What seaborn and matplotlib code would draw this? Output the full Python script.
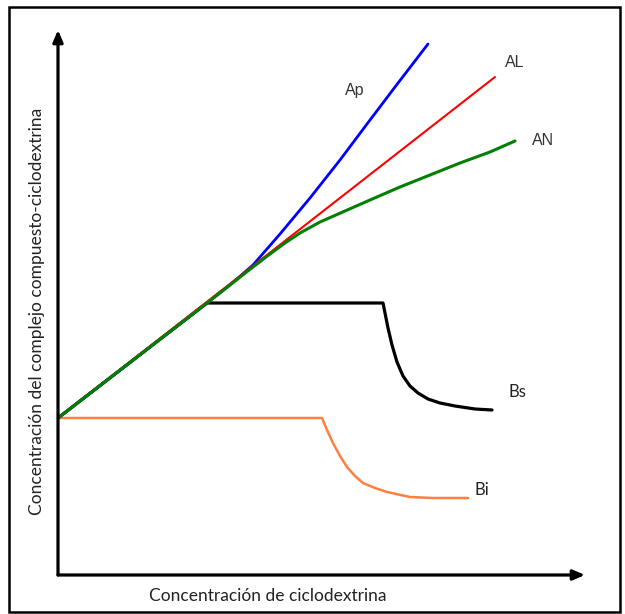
import matplotlib
matplotlib.use('Agg')
import matplotlib.pyplot as plt
import seaborn as sns
from matplotlib.patches import Rectangle

# curvas de solubilidad de fases (unidades arbitrarias)
ap_x = [0, 2.98, 3.44, 3.9, 4.44, 5.04, 5.64, 6.18, 6.74, 7.4]
ap_y = [3.14, 5.44, 5.8, 6.2, 6.82, 7.54, 8.3, 9.02, 9.76, 10.62]

al_x = [0, 8.74]
al_y = [3.14, 9.96]

an_x = [0, 2.98, 3.9, 4.24, 4.54, 4.84, 5.24, 5.74, 6.24, 6.84, 7.44, 8.04, 8.64, 9.14]
an_y = [3.14, 5.44, 6.16, 6.42, 6.64, 6.84, 7.06, 7.28, 7.5, 7.76, 8.0, 8.24, 8.46, 8.68]

bs_x = [0, 2.98, 6.5, 6.54, 6.6, 6.68, 6.78, 6.9, 7.04, 7.2, 7.4, 7.64, 7.94, 8.34, 8.68]
bs_y = [3.14, 5.44, 5.44, 5.24, 4.94, 4.6, 4.26, 3.98, 3.78, 3.64, 3.52, 3.44, 3.38, 3.32, 3.3]

bi_x = [0, 5.28, 5.38, 5.5, 5.64, 5.78, 5.94, 6.1, 6.34, 6.58, 7.04, 7.5, 8.2]
bi_y = [3.14, 3.14, 2.9, 2.64, 2.38, 2.16, 1.98, 1.84, 1.74, 1.66, 1.56, 1.54, 1.54]

sns.set_style('white')
plt.rcParams['font.family'] = ['Lato', 'DejaVu Sans']

fig = plt.figure(figsize=(6.25, 6.14), dpi=100)
ax = fig.add_axes([58 / 625, 39 / 614, 527 / 625, 545 / 614])
ax.set_xlim(0, 10.54)
ax.set_ylim(0, 10.9)

sns.lineplot(x=bi_x, y=bi_y, sort=False, estimator=None, color='#ff7f3f', lw=1.8, ax=ax)
sns.lineplot(x=bs_x, y=bs_y, sort=False, estimator=None, color='black', lw=2.3, ax=ax)
sns.lineplot(x=ap_x, y=ap_y, sort=False, estimator=None, color='#0000ff', lw=2.0, ax=ax)
sns.lineplot(x=al_x, y=al_y, sort=False, estimator=None, color='#ff0000', lw=1.5, ax=ax)
sns.lineplot(x=an_x, y=an_y, sort=False, estimator=None, color='#008000', lw=2.2, ax=ax)

for s in ax.spines.values():
    s.set_visible(False)
ax.set_xticks([])
ax.set_yticks([])
ax.patch.set_alpha(0)

# ejes con flecha
arrow = dict(arrowstyle='-|>,head_length=0.7,head_width=0.3', lw=2.3, color='black',
             shrinkA=0, shrinkB=0)
ax.annotate('', xy=(10.54, 0), xytext=(0, 0), arrowprops=arrow, annotation_clip=False)
ax.annotate('', xy=(0, 10.9), xytext=(0, 0), arrowprops=arrow, annotation_clip=False)

# etiquetas de curvas
ax.text(5.94, 9.7, 'Ap', fontsize=11.5, family='Liberation Sans', color='#333333', ha='center', va='center')
ax.text(9.14, 10.26, 'AL', fontsize=11.5, family='Liberation Sans', color='#333333', ha='center', va='center')
ax.text(9.7, 8.7, 'AN', fontsize=11.5, family='Liberation Sans', color='#333333', ha='center', va='center')
ax.text(9.18, 3.66, 'Bs', fontsize=12, color='#222222', ha='center', va='center')
ax.text(8.48, 1.7, 'Bi', fontsize=12, color='#222222', ha='center', va='center')

fig.text(268 / 625, 1 - 596 / 614, 'Concentración de ciclodextrina', fontsize=12.5,
         color='#222222', ha='center', va='center')
fig.text(37 / 625, 1 - 311 / 614, 'Concentración del complejo compuesto-ciclodextrina',
         fontsize=12.5, color='#222222', rotation=90, ha='center', va='center')

# marco
fig.patches.append(Rectangle((9 / 625, 2 / 614), 611 / 625, 605 / 614, transform=fig.transFigure,
                             fill=False, edgecolor='black', lw=1.8))

fig.savefig('out.png', dpi=100)
